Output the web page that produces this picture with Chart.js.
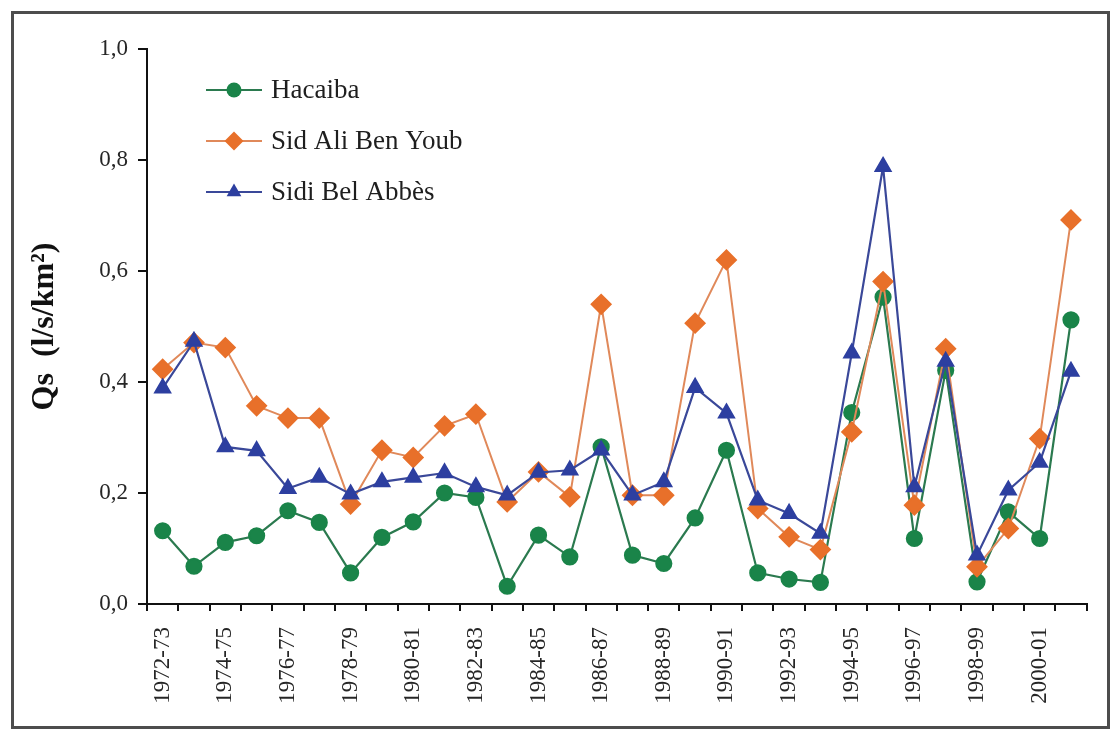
<!DOCTYPE html>
<html><head><meta charset="utf-8">
<script src="https://cdn.jsdelivr.net/npm/chart.js@4/dist/chart.umd.min.js"></script>
<style>html,body{margin:0;padding:0;background:#fff;}#wrap{position:relative;width:1115px;height:731px;}</style>
</head><body><div id="wrap"><canvas id="c" width="1115" height="731"></canvas></div>
<script>
const categories = ['1972-73','1973-74','1974-75','1975-76','1976-77','1977-78','1978-79','1979-80','1980-81','1981-82','1982-83','1983-84','1984-85','1985-86','1986-87','1987-88','1988-89','1989-90','1990-91','1991-92','1992-93','1993-94','1994-95','1995-96','1996-97','1997-98','1998-99','1999-00','2000-01','2001-02'];
const hacaiba = [0.132,0.068,0.111,0.123,0.168,0.147,0.056,0.120,0.148,0.200,0.192,0.032,0.124,0.085,0.283,0.088,0.073,0.155,0.277,0.056,0.045,0.039,0.345,0.553,0.118,0.421,0.040,0.166,0.118,0.512];
const sidAliBenYoub = [0.423,0.471,0.462,0.357,0.335,0.335,0.180,0.277,0.264,0.321,0.342,0.184,0.238,0.193,0.540,0.196,0.196,0.506,0.620,0.172,0.121,0.098,0.310,0.581,0.178,0.460,0.067,0.136,0.298,0.692];
const sidiBelAbbes = [0.389,0.473,0.283,0.276,0.208,0.228,0.198,0.220,0.228,0.236,0.211,0.196,0.237,0.241,0.277,0.196,0.220,0.390,0.344,0.187,0.163,0.127,0.452,0.788,0.211,0.437,0.088,0.205,0.255,0.419];
const yTickValues = [0, 0.2, 0.4, 0.6, 0.8, 1.0];
const seriesNames = ['Hacaiba', 'Sid Ali Ben Youb', 'Sidi Bel Abbès'];
const yTitle = 'Qs  (l/s/km²)';

const SERIF = '"Liberation Serif", "Times New Roman", serif';

function drawShape(ctx, style, x, y, r) {
  ctx.beginPath();
  if (style === 'circle') {
    ctx.arc(x, y, r, 0, Math.PI * 2);
  } else if (style === 'rectRot') {
    ctx.moveTo(x, y - r); ctx.lineTo(x + r, y); ctx.lineTo(x, y + r); ctx.lineTo(x - r, y);
  } else if (style === 'triangle') {
    const a = -Math.PI / 2;
    for (let i = 0; i < 3; i++) {
      const t = a + i * 2 * Math.PI / 3;
      const px = x + Math.cos(t) * r, py = y + Math.sin(t) * r;
      if (i === 0) ctx.moveTo(px, py); else ctx.lineTo(px, py);
    }
  }
  ctx.closePath();
  ctx.fill();
}

const framePlugin = {
  id: 'frame',
  beforeDraw(chart) {
    const ctx = chart.ctx;
    ctx.save();
    ctx.fillStyle = '#fff';
    ctx.fillRect(0, 0, chart.width, chart.height);
    ctx.restore();
  },
  afterDraw(chart) {
    const ctx = chart.ctx;
    ctx.save();
    ctx.strokeStyle = '#4d4d4d';
    ctx.lineWidth = 3;
    ctx.strokeRect(12.5, 12.5, 1096, 715);
    ctx.restore();
  }
};

const legendPlugin = {
  id: 'customLegend',
  afterDatasetsDraw(chart) {
    const ctx = chart.ctx;
    const area = chart.chartArea;
    const x0 = area.left + 59, x1 = area.left + 115, xm = (x0 + x1) / 2;
    chart.data.datasets.forEach((ds, i) => {
      const y = area.top + 41 + i * 51;
      ctx.save();
      ctx.strokeStyle = ds.borderColor;
      ctx.lineWidth = 2.2;
      ctx.beginPath(); ctx.moveTo(x0, y); ctx.lineTo(x1, y); ctx.stroke();
      ctx.fillStyle = ds.pointBackgroundColor;
      drawShape(ctx, ds.pointStyle, xm, y, ds.pointRadius);
      ctx.fillStyle = '#1e1e1e';
      ctx.font = '27px ' + SERIF;
      ctx.textBaseline = 'middle';
      ctx.textAlign = 'left';
      ctx.fillText(ds.label, x1 + 9, y + 1);
      ctx.restore();
    });
  }
};

new Chart(document.getElementById('c'), {
  type: 'line',
  data: {
    labels: categories,
    datasets: [
      { label: seriesNames[0], data: hacaiba, borderColor: '#2b7a4f', backgroundColor: '#1a8449',
        pointBackgroundColor: '#1a8449', pointBorderColor: '#1a8449', pointStyle: 'circle', pointRadius: 7.5,
        borderWidth: 2.2, order: 2, tension: 0 },
      { label: seriesNames[1], data: sidAliBenYoub, borderColor: '#e0895a', backgroundColor: '#e8702a',
        pointBackgroundColor: '#e8702a', pointBorderColor: '#e8702a', pointStyle: 'rectRot', pointRadius: 9.5,
        borderWidth: 2, order: 1, tension: 0 },
      { label: seriesNames[2], data: sidiBelAbbes, borderColor: '#3a4899', backgroundColor: '#2d3fa0',
        pointBackgroundColor: '#2d3fa0', pointBorderColor: '#2d3fa0', pointStyle: 'triangle', pointRadius: 8.5,
        borderWidth: 2.2, order: 0, tension: 0 }
    ]
  },
  options: {
    responsive: false,
    devicePixelRatio: 1,
    animation: false,
    layout: { padding: { left: 0, top: 49, right: 25, bottom: 0 } },
    plugins: { legend: { display: false }, tooltip: { enabled: false } },
    scales: {
      x: {
        offset: true,
        grid: { display: true, offset: true, drawOnChartArea: false, drawTicks: true, tickLength: 7, color: '#111', lineWidth: 2 },
        border: { display: true, color: '#111', width: 2 },
        ticks: {
          autoSkip: false, maxRotation: 90, minRotation: 90, padding: 16,
          color: '#262626', font: { family: SERIF, size: 23 },
          callback: function (v, i) { return i % 2 === 0 ? this.getLabelForValue(v) : ''; }
        },
        afterFit(scale) { scale.height = 127; }
      },
      y: {
        min: 0, max: 1,
        grid: { display: true, drawOnChartArea: false, drawTicks: true, tickLength: 9, color: '#111', lineWidth: 2 },
        border: { display: true, color: '#111', width: 2 },
        afterBuildTicks(scale) { scale.ticks = yTickValues.map(v => ({ value: v })); },
        ticks: {
          padding: 10, color: '#262626', font: { family: SERIF, size: 23 },
          callback: v => Number(v).toFixed(1).replace('.', ',')
        },
        title: { display: true, text: yTitle, color: '#111', font: { family: SERIF, size: 32, weight: 'bold' }, padding: { top: 26, bottom: 0 } },
        afterFit(scale) { scale.width = 147; }
      }
    }
  },
  plugins: [framePlugin, legendPlugin]
});
</script>
</body></html>
